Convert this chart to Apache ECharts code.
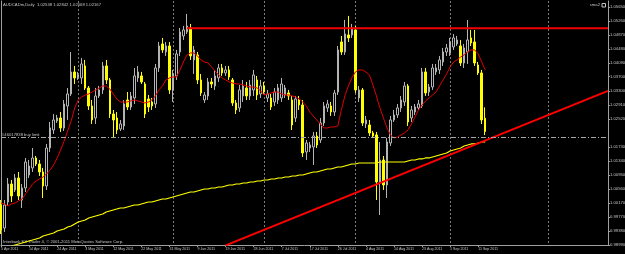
<!DOCTYPE html>
<html>
<head>
<meta charset="utf-8">
<title>AUDCADm,Daily</title>
<script src="https://cdn.jsdelivr.net/npm/echarts@6.0.0/dist/echarts.min.js"></script>
<style>
  html, body { margin: 0; padding: 0; background: #000; }
  #chart { width: 625px; height: 254px; }
</style>
</head>
<body>
<div id="chart"></div>
<script>
// daily bars from 5 Apr 2011, broker sends Sunday bars but no Saturday ones
const firstDay = '2011-04-05';
const barCount = 139;   // real bars up to 13 Sep 2011
const slotCount = 174;  // plus the empty shift area on the right

const opens = [
  1.00110,0.99466,1.00194,1.00698,1.00530,1.00866,1.00250,1.00586,1.00950,1.01146,
  1.01426,1.01258,1.01034,1.00642,1.01706,1.02210,1.02462,1.02546,1.02266,1.02882,
  1.03218,1.03834,1.03666,1.03666,1.04002,1.03386,1.02882,1.02546,1.03162,1.03330,
  1.04002,1.03610,1.02658,1.02546,1.02238,1.02322,1.03050,1.02854,1.03106,1.03666,
  1.03722,1.03498,1.03078,1.02994,1.02938,1.03946,1.04618,1.04394,1.04562,1.03330,
  1.03722,1.04394,1.04842,1.04954,1.05066,1.04170,1.04310,1.03610,1.03050,1.03162,
  1.03554,1.03442,1.03666,1.03946,1.03806,1.03890,1.03610,1.02966,1.02826,1.03162,
  1.03386,1.03162,1.03330,1.03610,1.03218,1.03442,1.03106,1.03106,1.02994,1.03050,
  1.03106,1.03190,1.03246,1.03050,1.02546,1.03050,1.02910,1.01594,1.01706,1.01734,
  1.02042,1.01930,1.02406,1.02826,1.02882,1.02714,1.03274,1.04674,1.04394,1.04870,
  1.04870,1.05010,1.03106,1.03330,1.02378,1.02350,1.02126,1.02070,1.00726,1.01370,
  1.00670,1.01846,1.02490,1.02630,1.02826,1.02994,1.03442,1.02546,1.02714,1.02826,
  1.02882,1.03834,1.03274,1.03414,1.03834,1.03890,1.04114,1.04394,1.04366,1.04534,
  1.04618,1.04562,1.04086,1.04394,1.04786,1.04674,1.04030,1.03806,1.02538
];
const closes = [
  0.99410,1.00110,1.00698,1.00362,1.00866,1.00362,1.00586,1.01314,1.01202,1.01426,
  1.01258,1.01034,1.00642,1.01706,1.02266,1.02490,1.02546,1.02266,1.02938,1.03218,
  1.03834,1.03666,1.03750,1.04058,1.03386,1.02882,1.02490,1.03162,1.03330,1.04002,
  1.03610,1.02658,1.02490,1.02210,1.02378,1.02938,1.02854,1.03162,1.03722,1.03834,
  1.03554,1.02658,1.02854,1.02882,1.03946,1.04562,1.04450,1.04562,1.03330,1.03778,
  1.04338,1.04954,1.05010,1.05122,1.04282,1.04450,1.03610,1.03246,1.03190,1.03554,
  1.03498,1.03722,1.03946,1.03806,1.03890,1.03694,1.02966,1.02770,1.03330,1.03442,
  1.03162,1.03470,1.03750,1.03190,1.03442,1.03274,1.03218,1.02854,1.03274,1.03386,
  1.03498,1.03386,1.03162,1.02350,1.03078,1.02910,1.01566,1.01846,1.01790,1.02042,
  1.01790,1.02406,1.02882,1.02938,1.02714,1.03246,1.04450,1.04394,1.04898,1.04786,
  1.05066,1.03330,1.03330,1.02406,1.02490,1.02126,1.02042,1.00754,1.01370,1.00670,
  1.01874,1.02490,1.02630,1.02826,1.03050,1.03442,1.02434,1.02770,1.02854,1.02938,
  1.03834,1.03246,1.03414,1.03946,1.03946,1.04170,1.04394,1.04506,1.04674,1.04786,
  1.04730,1.04086,1.04506,1.04730,1.04646,1.04086,1.03806,1.02490,1.02167
];
const lows = [
  0.99298,0.99354,1.00082,1.00194,1.00474,1.00250,1.00026,1.00474,1.00866,1.01034,
  1.01202,1.00922,1.00306,1.00530,1.01594,1.02098,1.02406,1.02154,1.02182,1.02490,
  1.03162,1.03498,1.03610,1.03498,1.03330,1.02770,1.02378,1.02378,1.03106,1.03218,
  1.03498,1.02546,1.01986,1.02098,1.02182,1.02210,1.02770,1.02770,1.02938,1.03554,
  1.03498,1.02546,1.02714,1.02770,1.02826,1.03834,1.04366,1.04282,1.03218,1.02994,
  1.03610,1.04282,1.04730,1.04898,1.04170,1.03778,1.03498,1.03162,1.02966,1.03050,
  1.03386,1.03330,1.03554,1.03722,1.03722,1.03610,1.02882,1.02658,1.02714,1.02994,
  1.03050,1.03050,1.03162,1.03050,1.03106,1.03218,1.02994,1.02770,1.02882,1.02938,
  1.02994,1.03106,1.03050,1.02210,1.02434,1.02770,1.01454,1.01370,1.01594,1.01230,
  1.01706,1.01846,1.02322,1.02714,1.02602,1.02602,1.03190,1.04310,1.04310,1.04674,
  1.04786,1.03246,1.02994,1.02322,1.02266,1.02042,1.01986,1.00250,0.99830,1.00530,
  1.00306,1.01762,1.02434,1.02546,1.02714,1.02882,1.02322,1.02434,1.02630,1.02770,
  1.02826,1.03162,1.03162,1.03330,1.03750,1.03778,1.04002,1.04282,1.04282,1.04450,
  1.04562,1.04002,1.03946,1.04058,1.04562,1.04002,1.03750,1.02378,1.02068
];
const highs = [
  1.00250,1.00250,1.00866,1.00810,1.00978,1.01034,1.00698,1.01426,1.01370,1.01706,
  1.01482,1.01370,1.01146,1.01818,1.02434,1.02658,1.02630,1.02714,1.03050,1.03386,
  1.04394,1.04002,1.03834,1.04226,1.04170,1.03442,1.03050,1.03386,1.03442,1.04114,
  1.04170,1.03666,1.02770,1.02714,1.02490,1.03050,1.03274,1.03274,1.03946,1.04002,
  1.03834,1.03554,1.03190,1.03106,1.04058,1.04674,1.04786,1.04674,1.04674,1.03890,
  1.04450,1.05066,1.05122,1.05458,1.05178,1.04562,1.04394,1.03778,1.03274,1.03666,
  1.03666,1.03890,1.04058,1.04058,1.04002,1.04002,1.03666,1.03050,1.03470,1.03610,
  1.03554,1.03610,1.03890,1.03722,1.03610,1.03554,1.03330,1.03218,1.03386,1.03498,
  1.03666,1.03470,1.03330,1.03162,1.03162,1.03162,1.03050,1.01930,1.01874,1.02154,
  1.02154,1.02546,1.02994,1.03050,1.02994,1.03330,1.04562,1.04842,1.05290,1.05402,
  1.05178,1.05122,1.03442,1.03386,1.02602,1.02490,1.02182,1.02154,1.01874,1.01482,
  1.01986,1.02602,1.02770,1.02938,1.03162,1.03554,1.03498,1.02882,1.02938,1.03050,
  1.03946,1.03946,1.03498,1.04058,1.04058,1.04282,1.04506,1.04618,1.04786,1.04898,
  1.04842,1.04730,1.04618,1.05290,1.05010,1.05010,1.04114,1.03890,1.02842
];

// red fast average
const maFast = [
  1.00166,1.00138,1.00082,1.00138,1.00166,1.00222,1.00278,1.00418,1.00558,1.00698,
  1.00782,1.00838,1.00894,1.00978,1.01090,1.01230,1.01426,1.01650,1.01902,1.02182,
  1.02462,1.02826,1.03050,1.03134,1.03190,1.03218,1.03274,1.03330,1.03386,1.03442,
  1.03442,1.03358,1.03218,1.03078,1.02994,1.02994,1.02994,1.03022,1.03050,1.03022,
  1.02994,1.02966,1.02994,1.03050,1.03162,1.03330,1.03442,1.03610,1.03666,1.03694,
  1.03694,1.03890,1.04114,1.04310,1.04366,1.04366,1.04282,1.04170,1.04114,1.04086,
  1.03974,1.03862,1.03750,1.03666,1.03610,1.03554,1.03526,1.03498,1.03498,1.03470,
  1.03442,1.03414,1.03414,1.03386,1.03302,1.03190,1.03218,1.03246,1.03274,1.03274,
  1.03218,1.03190,1.03190,1.03162,1.03134,1.03078,1.02994,1.02882,1.02714,1.02602,
  1.02490,1.02378,1.02266,1.02266,1.02294,1.02294,1.02322,1.02770,1.03162,1.03442,
  1.03666,1.03834,1.03890,1.03890,1.03834,1.03750,1.03470,1.03162,1.02826,1.02546,
  1.02266,1.02070,1.01986,1.02014,1.02070,1.02126,1.02210,1.02378,1.02574,1.02770,
  1.02910,1.03022,1.03106,1.03190,1.03274,1.03442,1.03610,1.03778,1.03974,1.04114,
  1.04170,1.04254,1.04310,1.04394,1.04450,1.04450,1.04338,1.04114,1.03890
];
// yellow slow average
const maSlow = [
  0.98822,0.98878,0.98906,0.98962,0.98990,0.99018,0.99046,0.99074,0.99102,0.99130,
  0.99158,0.99186,0.99242,0.99270,0.99298,0.99326,0.99382,0.99410,0.99438,0.99494,
  0.99522,0.99578,0.99634,0.99662,0.99690,0.99746,0.99774,0.99802,0.99830,0.99858,
  0.99914,0.99942,0.99970,0.99998,1.00026,1.00026,1.00054,1.00082,1.00110,1.00110,
  1.00138,1.00166,1.00194,1.00194,1.00222,1.00250,1.00278,1.00278,1.00306,1.00334,
  1.00362,1.00390,1.00418,1.00446,1.00474,1.00474,1.00502,1.00530,1.00558,1.00558,
  1.00586,1.00586,1.00614,1.00614,1.00642,1.00670,1.00670,1.00698,1.00698,1.00726,
  1.00726,1.00754,1.00754,1.00782,1.00782,1.00810,1.00810,1.00838,1.00838,1.00866,
  1.00866,1.00894,1.00894,1.00922,1.00922,1.00950,1.00950,1.00978,1.01006,1.01034,
  1.01034,1.01062,1.01090,1.01118,1.01118,1.01146,1.01174,1.01174,1.01202,1.01230,
  1.01258,1.01258,1.01286,1.01286,1.01286,1.01286,1.01286,1.01286,1.01314,1.01314,
  1.01314,1.01314,1.01314,1.01314,1.01314,1.01314,1.01342,1.01370,1.01370,1.01398,
  1.01398,1.01426,1.01426,1.01454,1.01482,1.01510,1.01538,1.01566,1.01622,1.01650,
  1.01678,1.01706,1.01762,1.01790,1.01818,1.01818,1.01846,1.01874,1.01874
];

// price scale labels
const yTicks = [0.98990,0.99380,0.99770,1.00170,1.00560,1.00950,1.01340,1.01730,
  1.02520,1.02910,1.03300,1.03700,1.04090,1.04480,1.04870,1.05260,1.05650];

const bidPrice = 1.02167;
const buyLimitPrice = 1.01860;
// drawn trend lines: bar index / price of both anchors
const resistIdx = [53, 173];
const resistPrice = [1.05060, 1.05060];
const supportIdx = [64, 173];
const supportPrice = [0.98979, 1.03306];

const MONTHS = ['Jan','Feb','Mar','Apr','May','Jun','Jul','Aug','Sep','Oct','Nov','Dec'];
const dates = [];
(function () {
	let d = new Date(firstDay + 'T00:00:00Z');
	while (dates.length < slotCount) {
		// history has no Saturdays, the future area just counts days
		if (dates.length >= barCount || d.getUTCDay() !== 6) {
			dates.push(d.toISOString().slice(0, 10));
		}
		d.setUTCDate(d.getUTCDate() + 1);
	}
})();

function dayLabel(s) {
	const p = s.split('-');
	return (+p[2]) + ' ' + MONTHS[+p[1] - 1] + ' ' + p[0];
}
function everyEighth(i) {
	return i % 8 === 0 && i < barCount;
}
function monthStart(i, v) {
	return i > 0 && v.slice(0, 7) !== dates[i - 1].slice(0, 7);
}

const candles = opens.map((o, i) => [o, closes[i], lows[i], highs[i]]);

const FONT = 'Liberation Sans';
const TXT = '#c4c4c4';
const AXIS = '#a0a0a0';

const myChart = echarts.init(document.getElementById('chart'));
myChart.setOption({
	backgroundColor: '#000',
	animation: false,
	textStyle: { fontFamily: FONT },
	grid: { left: 1, right: 17, top: 1, bottom: 9, containLabel: false, outerBoundsMode: 'none' },
	xAxis: {
		type: 'category',
		data: dates,
		boundaryGap: false,
		axisLine: { lineStyle: { color: AXIS, width: 1 } },
		axisTick: { show: true, length: 2, interval: everyEighth, lineStyle: { color: AXIS } },
		axisLabel: {
			interval: everyEighth,
			formatter: dayLabel,
			color: TXT,
			fontSize: 3.6,
			fontFamily: FONT,
			align: 'left',
			margin: 2
		},
		splitLine: { show: true, interval: monthStart, lineStyle: { color: '#7c7c7c', type: [2, 2], width: 1 } }
	},
	yAxis: [
		{
			type: 'value',
			position: 'right',
			min: 0.9899,
			max: 1.0582,
			axisLine: { show: true, lineStyle: { color: AXIS } },
			axisTick: { show: true, length: 2, customValues: yTicks, lineStyle: { color: AXIS } },
			axisLabel: {
				customValues: yTicks,
				formatter: v => v.toFixed(5),
				color: TXT,
				fontSize: 4.2,
				fontFamily: FONT,
				margin: 2
			},
			splitLine: { show: false }
		},
		{
			// left frame edge only
			type: 'value',
			position: 'left',
			min: 0.9899,
			max: 1.0582,
			axisLine: { show: true, lineStyle: { color: AXIS } },
			axisTick: { show: false },
			axisLabel: { show: false },
			splitLine: { show: false }
		}
	],
	graphic: [
		{ type: 'text', left: 3, top: 2.5, silent: true,
			style: { text: 'AUDCADm,Daily  1.02538 1.02842 1.02068 1.02167', fill: TXT, fontSize: 4.2, fontFamily: FONT } },
		{ type: 'text', right: 25, top: 3, silent: true,
			style: { text: 'sma2', fill: TXT, fontSize: 4.2, fontFamily: FONT } },
		{ type: 'rect', right: 19, top: 3, silent: true,
			shape: { width: 3.5, height: 3.5 }, style: { fill: '#000', stroke: TXT, lineWidth: 1 } },
		{ type: 'text', left: 3, top: 239.5, silent: true,
			style: { text: 'Interbank FX Trader 4, \u00a9 2001-2011 MetaQuotes Software Corp.', fill: TXT, fontSize: 4.2, fontFamily: FONT } }
	],
	series: [
		{
			name: 'AUDCADm',
			type: 'candlestick',
			data: candles,
			barWidth: 2,
			silent: true,
			itemStyle: {
				color: '#000000',
				color0: '#ffff00',
				borderColor: '#b4b4b4',
				borderColor0: '#ffff00',
				borderWidth: 1
			},
			markLine: {
				silent: true,
				symbol: ['none', 'none'],
				animation: false,
				data: [
					{
						yAxis: bidPrice,
						lineStyle: { opacity: 0 },
						label: {
							show: true, position: 'end', formatter: bidPrice.toFixed(5),
							color: '#000', backgroundColor: '#ffffff', fontSize: 4.2, fontFamily: FONT,
							padding: [1, 1, 0, 1], distance: 1
						}
					},
					{
						yAxis: buyLimitPrice,
						lineStyle: { color: '#a8a8a8', type: [5, 2, 1, 2], width: 1 },
						label: {
							show: true, position: 'insideStartTop', formatter: '#46017838 buy limit',
							color: TXT, fontSize: 4.2, fontFamily: FONT, distance: 1
						}
					}
				]
			}
		},
		{
			name: 'ma fast',
			type: 'line',
			data: maFast,
			showSymbol: false,
			silent: true,
			lineStyle: { color: '#e00000', width: 1 },
			z: 3
		},
		{
			name: 'ma slow',
			type: 'line',
			data: maSlow,
			showSymbol: false,
			silent: true,
			lineStyle: { color: '#ffff00', width: 1.2 },
			z: 3
		},
		{
			name: 'resistance',
			type: 'line',
			data: resistIdx.map((k, j) => [dates[k], resistPrice[j]]),
			showSymbol: false,
			silent: true,
			lineStyle: { color: '#f00000', width: 2 },
			z: 4
		},
		{
			name: 'support',
			type: 'line',
			data: supportIdx.map((k, j) => [dates[k], supportPrice[j]]),
			showSymbol: false,
			silent: true,
			lineStyle: { color: '#ff0000', width: 2 },
			z: 4
		}
	]
});
window.onresize = myChart.resize;
</script>
</body>
</html>
